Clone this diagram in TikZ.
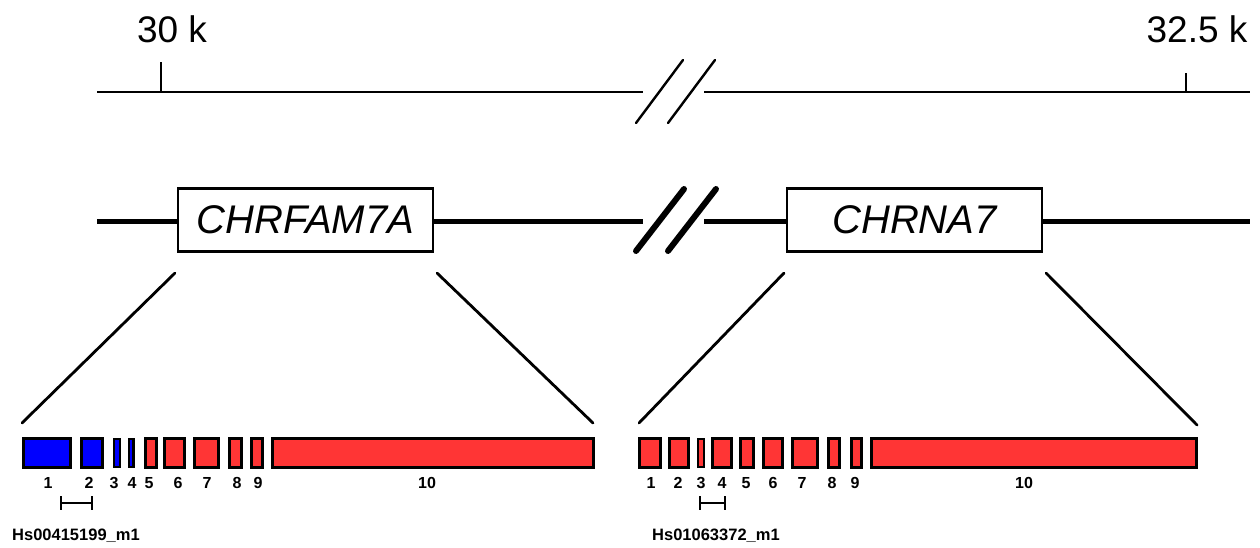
\documentclass[tikz,border=0pt]{standalone}
\usepackage{fontspec}
\setmainfont{Liberation Sans}
\usetikzlibrary{calc}
\definecolor{exred}{HTML}{FF3535}
\definecolor{exblue}{HTML}{0000FF}
\tikzset{
  thinline/.style={line width=2pt},
  geneline/.style={line width=5pt},
  slashthin/.style={line width=2.4pt, line cap=round},
  slashthick/.style={line width=6pt, line cap=round},
  genebox/.style={draw, line width=2.2pt, fill=white, inner sep=0pt, outer sep=0pt,
     minimum width=255pt, minimum height=63pt, font=\fontsize{40}{44}\selectfont\itshape},
  zoomline/.style={line width=2.8pt, line cap=round},
  exonbox/.style={draw, line width=3.2pt, inner sep=0pt, outer sep=0pt, minimum height=28.5pt, anchor=west},
  exnum/.style={font=\fontsize{16}{18}\selectfont\bfseries, inner sep=0pt},
  scalelab/.style={font=\fontsize{37}{40}\selectfont, anchor=base, inner sep=0pt},
  assaylab/.style={font=\fontsize{16.5}{18}\selectfont\bfseries, anchor=base west, inner sep=0pt},
  bracket/.style={line width=2.4pt}
}
\begin{document}
\begin{tikzpicture}[x=1pt,y=-1pt]
\useasboundingbox (0,0) rectangle (1260,547);
% scale line
\coordinate (s0) at (97,92);
\coordinate (s1) at (643,92);
\coordinate (s2) at (704,92);
\coordinate (s3) at (1250,92);
\draw[thinline] (s0) -- (s1);
\draw[thinline] (s2) -- (s3);
\coordinate (t1a) at (161,92); \coordinate (t1b) at (161,62);
\coordinate (t2a) at (1186,92); \coordinate (t2b) at (1186,73);
\draw[thinline] (t1a) -- (t1b);
\draw[thinline] (t2a) -- (t2b);
\node[scalelab] (lab30) at (172,42) {30 k};
\node[scalelab] (lab325) at (1197,42) {32.5 k};
\coordinate (a1) at (636,123); \coordinate (a2) at (683,60);
\coordinate (a3) at (668,123); \coordinate (a4) at (715,60);
\draw[slashthin] (a1) -- (a2);
\draw[slashthin] (a3) -- (a4);
% gene line
\coordinate (g0) at (97,221);
\coordinate (g1) at (643,221);
\coordinate (g2) at (704,221);
\coordinate (g3) at (1250,221);
\draw[geneline] (g0) -- (g1);
\draw[geneline] (g2) -- (g3);
\coordinate (b1) at (636,251); \coordinate (b2) at (684,189);
\coordinate (b3) at (668,251); \coordinate (b4) at (716,189);
\draw[slashthick] (b1) -- (b2);
\draw[slashthick] (b3) -- (b4);
\node[genebox] (chrfam) at (305.5,220) {CHRFAM7A};
\node[genebox] (chrna) at (914.5,220) {CHRNA7};
% zoom lines
\coordinate (z1) at (175,273); \coordinate (z2) at (22,423);
\coordinate (z3) at (437,273); \coordinate (z4) at (593,423);
\coordinate (z5) at (784,273); \coordinate (z6) at (639,423);
\coordinate (z7) at (1046,273); \coordinate (z8) at (1197,425);
\draw[zoomline] (z1) -- (z2);
\draw[zoomline] (z3) -- (z4);
\draw[zoomline] (z5) -- (z6);
\draw[zoomline] (z7) -- (z8);
% left exons
\foreach \i/\a/\b/\c/\l/\w in {1/23.5/70.5/exblue/48/3.2, 2/81.5/102.5/exblue/89/3.2, 3/114.2/119.8/exblue/114/2.4, 4/129/133.5/exblue/132/2.2,
  5/145.5/156.5/exred/149/3.2, 6/164.5/184.5/exred/178/3.2, 7/194.5/218.5/exred/207/3.2, 8/229.5/241.5/exred/237/3.2,
  9/251.5/262.5/exred/258/3.2, 10/272.5/593.5/exred/427/3.2}{
  \node[exonbox, fill=\c, line width=\w pt, minimum width={\b-\a}] (le\i) at (\a,453) {};
  \node[exnum] (ln\i) at (\l,483) {\i};
}
% right exons
\foreach \i/\a/\b/\l/\w in {1/639.5/660.5/651/3.2, 2/669.5/688.5/678/3.2, 3/698.2/703.8/701/2.4, 4/712.5/731.5/722/3.2,
  5/740.5/753.5/746/3.2, 6/763.5/782.5/773/3.2, 7/792.5/817.5/802/3.2, 8/828.5/839.5/832/3.2,
  9/851.5/861.5/855/3.2, 10/871.5/1196.5/1024/3.2}{
  \node[exonbox, fill=exred, line width=\w pt, minimum width={\b-\a}] (re\i) at (\a,453) {};
  \node[exnum] (rn\i) at (\l,483) {\i};
}
% assay brackets
\coordinate (k1) at (61,503); \coordinate (k2) at (92,503);
\draw[bracket] (k1) -- (k2);
\draw[bracket] ($(k1)+(0,-7)$) -- ($(k1)+(0,7)$);
\draw[bracket] ($(k2)+(0,-7)$) -- ($(k2)+(0,7)$);
\coordinate (k3) at (700,503); \coordinate (k4) at (725,503);
\draw[bracket] (k3) -- (k4);
\draw[bracket] ($(k3)+(0,-7)$) -- ($(k3)+(0,7)$);
\draw[bracket] ($(k4)+(0,-7)$) -- ($(k4)+(0,7)$);
\node[assaylab] (as1) at (12,540) {Hs00415199\_m1};
\node[assaylab] (as2) at (652,540) {Hs01063372\_m1};
\end{tikzpicture}
\end{document}
